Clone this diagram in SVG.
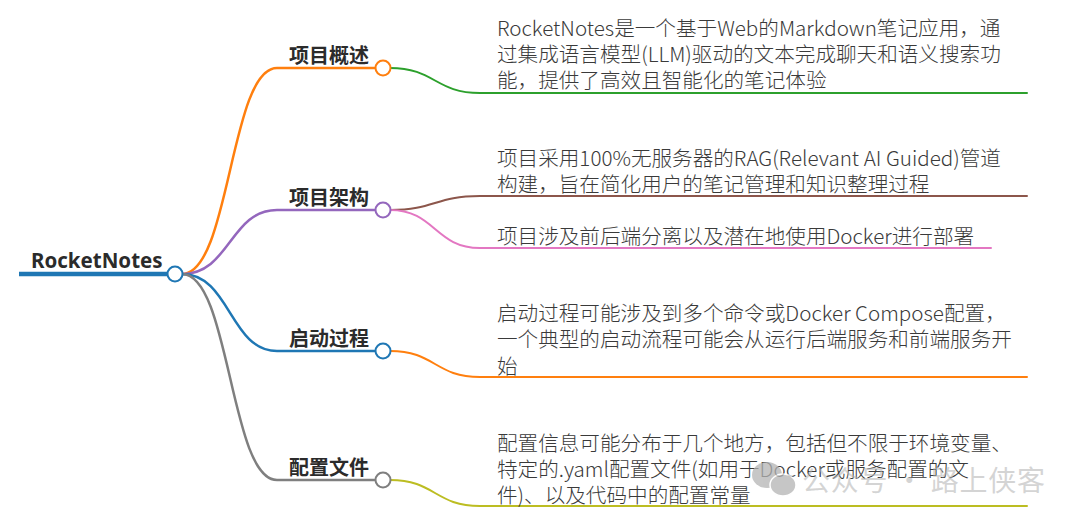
<svg xmlns="http://www.w3.org/2000/svg" width="1080" height="523" viewBox="0 0 1080 523">
<style>
.c{fill:none;stroke-linecap:round}
.l1{stroke-width:2.5}
.l2{stroke-width:2}
.dot{fill:#fff;stroke-width:2}
.t1{font-family:"Noto Sans CJK SC","Noto Sans",sans-serif;font-weight:bold;font-size:20px;fill:#2b2b2b}
.t2{font-family:"Noto Sans CJK SC","Noto Sans",sans-serif;font-weight:300;font-size:20.6px;fill:#3a3a3a}
.root{font-family:"Noto Sans","Noto Sans CJK SC",sans-serif;font-weight:bold;font-size:20.5px;fill:#2b2b2b}
.wm{font-family:"Noto Sans CJK SC",sans-serif;font-size:28px;fill:#b4b4b4;fill-opacity:0.75}
</style>
<rect width="1080" height="523" fill="#fff"/>
<g id="connectors">
  <path class="c l1" stroke="#ff7f0e" d="M182,274 C230,274 230,68 277,68 L376,68"/>
  <path class="c l1" stroke="#9467bd" d="M182,274 C230,274 230,210 277,210 L376,210"/>
  <path class="c l1" stroke="#1f77b4" d="M182,274 C230,274 230,351 277,351 L376,351"/>
  <path class="c l1" stroke="#7f7f7f" d="M182,274 C230,274 230,480 277,480 L376,480"/>
  <path class="c l2" stroke="#2ca02c" d="M390,68 C435,68 435,93 480,93 L1027,93"/>
  <path class="c l2" stroke="#8c564b" d="M390,210 C435,210 435,196 480,196 L1027,196"/>
  <path class="c l2" stroke="#e377c2" d="M390,210 C435,210 435,248 480,248 L991,248"/>
  <path class="c l2" stroke="#ff7f0e" d="M390,351 C435,351 435,377 480,377 L1027,377"/>
  <path class="c l2" stroke="#bcbd22" d="M390,480 C435,480 435,506 480,506 L1027,506"/>
</g>
<g id="root">
  <line x1="19" y1="274" x2="167" y2="274" stroke="#1f77b4" stroke-width="4.5"/>
  <text class="root" x="31" y="268">RocketNotes</text>
  <circle class="dot" cx="175" cy="274" r="7.5" stroke="#1f77b4"/>
</g>
<g id="n1">
  <text class="t1" x="289" y="63">项目概述</text>
  <circle class="dot" cx="383" cy="68" r="7.5" stroke="#ff7f0e"/>
</g>
<g id="n2">
  <text class="t1" x="289" y="205">项目架构</text>
  <circle class="dot" cx="383" cy="210" r="7.5" stroke="#9467bd"/>
</g>
<g id="n3">
  <text class="t1" x="289" y="346">启动过程</text>
  <circle class="dot" cx="383" cy="351" r="7.5" stroke="#1f77b4"/>
</g>
<g id="n4">
  <text class="t1" x="289" y="475">配置文件</text>
  <circle class="dot" cx="383" cy="480" r="7.5" stroke="#7f7f7f"/>
</g>
<g id="n1a">
  <text class="t2" x="497" y="36">RocketNotes是一个基于Web的Markdown笔记应用，通</text>
  <text class="t2" x="497" y="62">过集成语言模型(LLM)驱动的文本完成聊天和语义搜索功</text>
  <text class="t2" x="497" y="88">能，提供了高效且智能化的笔记体验</text>
</g>
<g id="n2a">
  <text class="t2" x="497" y="166">项目采用100%无服务器的RAG(Relevant AI Guided)管道</text>
  <text class="t2" x="497" y="192">构建，旨在简化用户的笔记管理和知识整理过程</text>
</g>
<g id="n2b">
  <text class="t2" x="497" y="244">项目涉及前后端分离以及潜在地使用Docker进行部署</text>
</g>
<g id="n3a">
  <text class="t2" x="497" y="321">启动过程可能涉及到多个命令或Docker Compose配置，</text>
  <text class="t2" x="497" y="347">一个典型的启动流程可能会从运行后端服务和前端服务开</text>
  <text class="t2" x="497" y="374">始</text>
</g>
<g id="n4a">
  <text class="t2" x="497" y="451">配置信息可能分布于几个地方，包括但不限于环境变量、</text>
  <text class="t2" x="497" y="477">特定的.yaml配置文件(如用于Docker或服务配置的文</text>
  <text class="t2" x="497" y="503">件)、以及代码中的配置常量</text>
</g>
<g id="watermark" opacity="0.75">
  <ellipse cx="767" cy="475" rx="15" ry="13" fill="#b4b4b4"/>
  <ellipse cx="783" cy="485" rx="13" ry="11" fill="#b4b4b4" stroke="#fff" stroke-width="1.5"/>
  <text class="wm" x="802" y="491" textLength="243">公众号 · 路上侠客</text>
</g>
</svg>
